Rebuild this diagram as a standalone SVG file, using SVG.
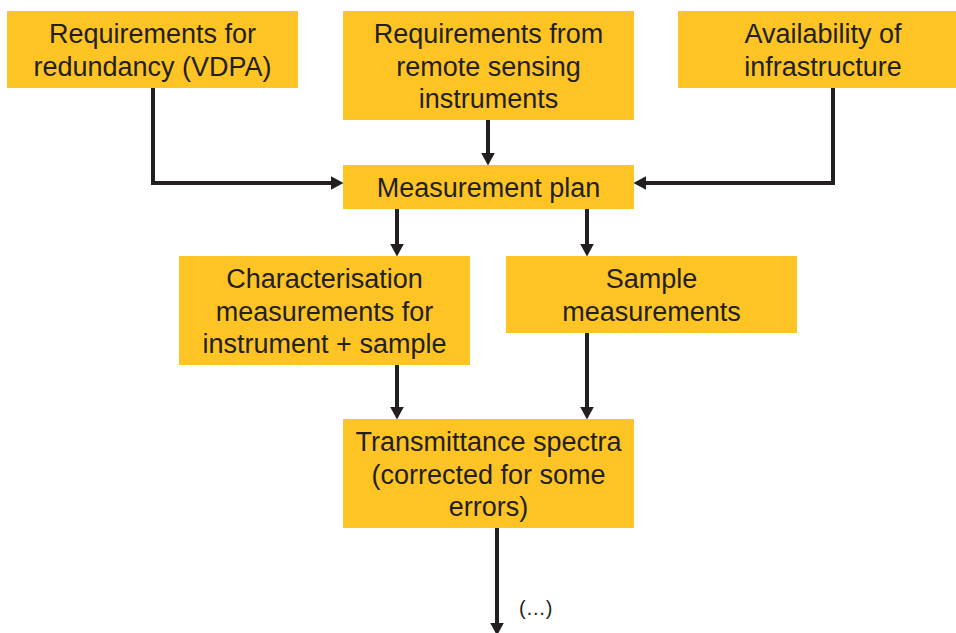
<svg xmlns="http://www.w3.org/2000/svg" width="956" height="633" viewBox="0 0 956 633">
  <style>
    .box { fill: #FEC424; }
    .lbl { font-family: "Liberation Sans", Arial, sans-serif; font-size: 27px; fill: #231F20; text-anchor: middle; }
    .note { font-family: "Liberation Sans", Arial, sans-serif; font-size: 20px; fill: #231F20; }
    .wire { fill: none; stroke: #231F20; stroke-width: 4; stroke-linejoin: miter; marker-end: url(#head); }
  </style>
  <defs>
    <marker id="head" markerUnits="userSpaceOnUse" markerWidth="14" markerHeight="14" viewBox="0 0 13 13" refX="5" refY="6.5" orient="auto">
      <path d="M0,0 L12,6.5 L0,13 Z" fill="#231F20"/>
    </marker>
  </defs>
  <rect width="956" height="633" fill="#FFFFFF"/>

  <g id="connectors">
    <path class="wire" d="M153,88 V183 H336"/>
    <path class="wire" d="M488,120 V158"/>
    <path class="wire" d="M833,88 V183 H641"/>
    <path class="wire" d="M397,209 V249"/>
    <path class="wire" d="M587,209 V249"/>
    <path class="wire" d="M397,365 V412"/>
    <path class="wire" d="M587,333 V412"/>
    <path class="wire" d="M497,528 V628"/>
  </g>

  <g id="req-redundancy">
    <rect class="box" x="7" y="11" width="291" height="77"/>
    <text class="lbl" x="152.5" y="43">Requirements for</text>
    <text class="lbl" x="152.5" y="75.5">redundancy (VDPA)</text>
  </g>

  <g id="req-remote-sensing">
    <rect class="box" x="343" y="11" width="291" height="109"/>
    <text class="lbl" x="488.5" y="43">Requirements from</text>
    <text class="lbl" x="488.5" y="75.5">remote sensing</text>
    <text class="lbl" x="488.5" y="108">instruments</text>
  </g>

  <g id="infrastructure">
    <rect class="box" x="678" y="11" width="278" height="77"/>
    <text class="lbl" x="823" y="43">Availability of</text>
    <text class="lbl" x="823" y="75.5">infrastructure</text>
  </g>

  <g id="measurement-plan">
    <rect class="box" x="343" y="165" width="291" height="44"/>
    <text class="lbl" x="488.5" y="197">Measurement plan</text>
  </g>

  <g id="characterisation">
    <rect class="box" x="179" y="256" width="291" height="109"/>
    <text class="lbl" x="324.5" y="288">Characterisation</text>
    <text class="lbl" x="324.5" y="320.5">measurements for</text>
    <text class="lbl" x="324.5" y="353">instrument + sample</text>
  </g>

  <g id="sample-measurements">
    <rect class="box" x="506" y="256" width="291" height="77"/>
    <text class="lbl" x="651.5" y="288">Sample</text>
    <text class="lbl" x="651.5" y="320.5">measurements</text>
  </g>

  <g id="transmittance">
    <rect class="box" x="343" y="419" width="291" height="109"/>
    <text class="lbl" x="488.5" y="451">Transmittance spectra</text>
    <text class="lbl" x="488.5" y="483.5">(corrected for some</text>
    <text class="lbl" x="488.5" y="516">errors)</text>
  </g>

  <text class="note" x="519" y="615">(…)</text>
</svg>
